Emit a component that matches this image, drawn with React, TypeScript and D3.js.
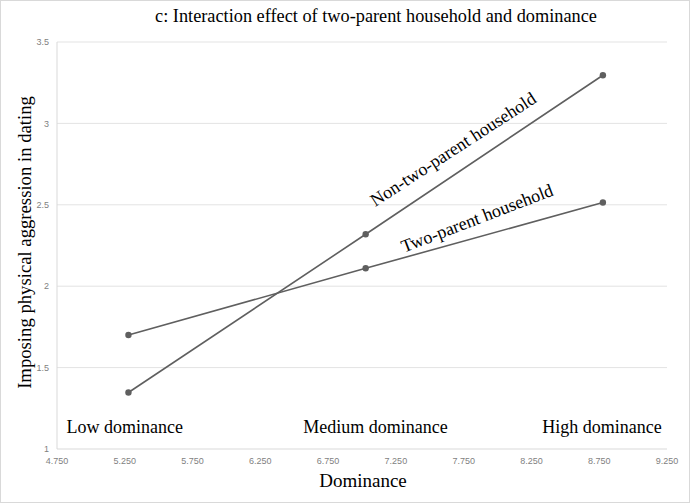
import React from "react";
import * as d3 from "d3";

const xTicks = [4.75, 5.25, 5.75, 6.25, 6.75, 7.25, 7.75, 8.25, 8.75, 9.25];
const yTicks = [1, 1.5, 2, 2.5, 3, 3.5];
const dominanceLevels = [5.277, 7.027, 8.777];
const nonTwoParent = [1.347, 2.319, 3.296];
const twoParent = [1.70, 2.11, 2.514];
const levelLabels = ["Low dominance", "Medium dominance", "High dominance"];
const levelLabelX = [5.25, 7.1, 8.77];

const W = 690, H = 503;
const M = { left: 57, right: 667, top: 42, bottom: 449 };
const FONT = "'Liberation Serif', 'Times New Roman', serif";
const LINE = "#5f5f5f";

export default function App() {
  const x = d3.scaleLinear().domain([4.75, 9.25]).range([M.left, M.right]);
  const y = d3.scaleLinear().domain([1, 3.5]).range([M.bottom, M.top]);
  const line = d3.line<number>().x((_, i) => x(dominanceLevels[i])).y((d) => y(d));
  const series = [nonTwoParent, twoParent];

  return (
    <svg width={W} height={H} style={{ position: "absolute", left: 0, top: 0, display: "block", background: "#fff" }}>
      <rect x={0.5} y={0.5} width={W - 1} height={H - 1} fill="#fff" stroke="#d9d9d9" />
      <text x={376} y={22} textAnchor="middle" fontFamily={FONT} fontSize={18.3} fill="#000">
        c: Interaction effect of two-parent household and dominance
      </text>
      {yTicks.map((t) => (
        <g key={t}>
          {t > 1 && (
            <line x1={M.left} x2={M.right} y1={y(t)} y2={y(t)} stroke="#e3e3e3" strokeWidth={1} />
          )}
          <text x={49} y={y(t)} dy="0.35em" textAnchor="end" fontFamily="'Liberation Sans', Arial, sans-serif" fontSize={9} fill="#7f7f7f">
            {String(t)}
          </text>
        </g>
      ))}
      <line x1={M.left} x2={M.left} y1={M.top} y2={M.bottom} stroke="#d9d9d9" />
      <line x1={M.left} x2={M.right} y1={M.bottom} y2={M.bottom} stroke="#d9d9d9" />
      {xTicks.map((t) => (
        <text key={t} x={x(t)} y={461} dy="0.35em" textAnchor="middle" fontFamily="'Liberation Sans', Arial, sans-serif" fontSize={9} fill="#7f7f7f">
          {d3.format(".3f")(t)}
        </text>
      ))}
      <text x={363} y={487} textAnchor="middle" fontFamily={FONT} fontSize={19} fill="#000">Dominance</text>
      <text transform={`translate(31,${(M.top + M.bottom) / 2 - 3}) rotate(-90)`} textAnchor="middle" fontFamily={FONT} fontSize={18.7} fill="#000">
        Imposing physical aggression in dating
      </text>
      {levelLabels.map((l, i) => (
        <text key={l} x={x(levelLabelX[i])} y={433} textAnchor="middle" fontFamily={FONT} fontSize={18} fill="#000">{l}</text>
      ))}
      {series.map((s, si) => (
        <g key={si}>
          <path d={line(s) || ""} fill="none" stroke={LINE} strokeWidth={1.6} />
          {s.map((v, i) => (
            <circle key={i} cx={x(dominanceLevels[i])} cy={y(v)} r={3.2} fill={LINE} />
          ))}
        </g>
      ))}
      <text transform={`translate(453,149) rotate(-33)`} textAnchor="middle" dy="0.35em" fontFamily={FONT} fontSize={18} fill="#000">
        Non-two-parent household
      </text>
      <text transform={`translate(477,218) rotate(-21)`} textAnchor="middle" dy="0.35em" fontFamily={FONT} fontSize={18} fill="#000">
        Two-parent household
      </text>
    </svg>
  );
}
